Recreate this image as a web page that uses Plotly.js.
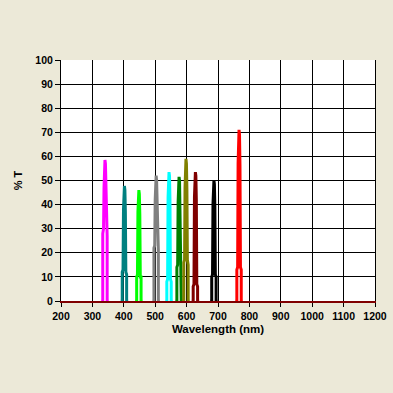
<!DOCTYPE html>
<html>
<head>
<meta charset="utf-8">
<script src="https://cdn.plot.ly/plotly-3.0.1.min.js"></script>
<style>html,body{margin:0;padding:0;background:#ECE9D8;}#chart{width:393px;height:393px;}</style>
</head>
<body>
<div id="chart"></div>
<script>
// Filter transmission spectra (wavelength nm, %T)
const magentaNm = [328,333,333,335.5,337,338.5,340,341.5,343,344.5,347,347,352];
const magentaT  = [0,0,28,30,47,57,58.5,57,46,29,27,0,0];
const tealNm = [390,395,395,397.5,399,400.5,402,403.5,405,406.5,409,409,414];
const tealT  = [0,0,12,13,38,46,47.7,46,37,12,11,0,0];
const limeNm = [436,441,441,443.5,445,446.5,448,449.5,451,452.5,455,455,460];
const limeT  = [0,0,10,11,37,44.5,46,44.5,36,10,10,0,0];
const grayNm = [491,496,496,498.5,500,501.5,503,504.5,506,507.5,510,510,515];
const grayT  = [0,0,22,23,42,50,52,50,41,23,21,0,0];
const cyanNm = [532,537,537,539.5,541,542.5,544,545.5,547,548.5,551,551,556];
const cyanT  = [0,0,8,9,43,52,53.5,52,42,9,8,0,0];
const greenNm = [564,569,569,571.5,573,574.5,576,577.5,579,580.5,583,583,588];
const greenT  = [0,0,14,15,41,50,51.5,50,40,15,13,0,0];
const oliveNm = [586,591,591,593.5,595,596.5,598,599.5,601,602.5,605,605,610];
const oliveT  = [0,0,16,17,47,57,59,57,46,17,15,0,0];
const maroonNm = [616,621,621,623.5,625,626.5,628,629.5,631,632.5,635,635,640];
const maroonT  = [0,0,6,7,43,52,53.5,52,42,7,6,0,0];
const blackNm = [675,680,680,682.5,684,685.5,687,688.5,690,691.5,694,694,699];
const blackT  = [0,0,10,11,40,48.5,50,48.5,39,11,10,0,0];
const redNm = [755,760,760,762.5,764,765.5,767,768.5,770,771.5,774,774,779];
const redT  = [0,0,13,14,57,69,71,69,56,14,13,0,0];

const xTickVals = [200,300,400,500,600,700,800,900,1000,1100,1200];
const yTickVals = [0,10,20,30,40,50,60,70,80,90,100];

const series = [
  [magentaNm, magentaT, '#FF00FF'],
  [tealNm, tealT, '#008080'],
  [limeNm, limeT, '#00FF00'],
  [grayNm, grayT, '#808080'],
  [cyanNm, cyanT, '#00FFFF'],
  [greenNm, greenT, '#008000'],
  [oliveNm, oliveT, '#808000'],
  [maroonNm, maroonT, '#800000'],
  [blackNm, blackT, '#000000'],
  [redNm, redT, '#FF0000']
];

const traces = series.map(s => ({
  x: s[0], y: s[1], type: 'scatter', mode: 'lines',
  line: {color: s[2], width: 3}, hoverinfo: 'none', showlegend: false
}));

const fontFam = 'Liberation Sans, Arial, sans-serif';
const layout = {
  width: 393, height: 393,
  paper_bgcolor: '#ECE9D8', plot_bgcolor: '#FFFFFF',
  margin: {l: 61, r: 18, t: 60, b: 92},
  showlegend: false,
  xaxis: {
    range: [200, 1200], tickvals: xTickVals, ticktext: xTickVals.map(String),
    showgrid: true, gridcolor: '#000000', gridwidth: 1,
    showline: true, linecolor: '#800000', linewidth: 2,
    ticks: 'outside', ticklen: 4, tickcolor: '#000000', zeroline: false,
    tickfont: {family: fontFam, size: 10.5, color: '#000000', weight: 'bold'},
    title: {text: 'Wavelength (nm)', standoff: 4,
      font: {family: fontFam, size: 11.5, color: '#000000', weight: 'bold'}}
  },
  yaxis: {
    range: [0, 100], tickvals: yTickVals, ticktext: yTickVals.map(String),
    showgrid: true, gridcolor: '#000000', gridwidth: 1,
    showline: true, linecolor: '#000000', linewidth: 1, mirror: true,
    ticks: 'outside', ticklen: 5, tickcolor: '#000000', zeroline: false,
    tickfont: {family: fontFam, size: 10.5, color: '#000000', weight: 'bold'},
    title: {text: '% T', standoff: 10,
      font: {family: fontFam, size: 11, color: '#000000', weight: 'bold'}}
  }
};

Plotly.newPlot('chart', traces, layout, {staticPlot: true, displayModeBar: false});
</script>
</body>
</html>
